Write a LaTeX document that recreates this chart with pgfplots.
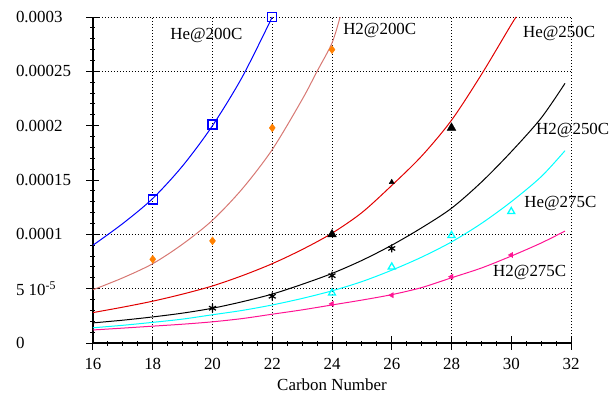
\documentclass[border=0pt]{standalone}
\usepackage{fontspec}
\setmainfont{Liberation Serif}
\usepackage{pgfplots}
\pgfplotsset{compat=1.18}
\definecolor{heblue}{RGB}{0,0,255}
\definecolor{salmonl}{RGB}{215,120,115}
\definecolor{hered}{RGB}{225,0,0}
\definecolor{hecyan}{RGB}{0,255,255}
\definecolor{hpink}{RGB}{255,20,147}
\definecolor{morange}{RGB}{255,128,0}
\begin{document}
\begin{tikzpicture}
\begin{axis}[
  at={(0,0)}, anchor=south west,
  width=478bp, height=326bp, scale only axis,
  xmin=16, xmax=32, ymin=0, ymax=0.0003,
  axis lines=left, axis line style={-, line width=1.3bp},
  clip=false,
  xtick={16,18,20,22,24,26,28,30,32},
  xticklabels={16,18,20,22,24,26,28,30,32},
  ytick={0,0.00005,0.0001,0.00015,0.0002,0.00025,0.0003},
  yticklabels={0,{5 10\textsuperscript{-5}},0.0001,0.00015,0.0002,0.00025,0.0003},
  scaled y ticks=false, scaled x ticks=false,
  minor x tick num=3, minor y tick num=4,
  tick align=center, major tick length=13bp, minor tick length=5bp,
  tick style={black, line width=1bp},
  extra x ticks={18,20,22,24,28,32}, extra x tick labels={},
  extra x tick style={xmajorgrids=true, major tick length=0pt},
  extra y ticks={0.00005,0.0001,0.00025,0.0003}, extra y tick labels={},
  extra y tick style={ymajorgrids=true, major tick length=0pt},
  major grid style={black, line width=0.9bp, dash pattern=on 1bp off 2bp},
  ticklabel style={font=\fontsize{17}{19}\selectfont},
  yticklabel style={anchor=west, xshift=-74bp},
  xticklabel style={yshift=-5bp},
  xlabel={Carbon Number},
  xlabel style={font=\fontsize{17}{19}\selectfont, at={(axis description cs:0.5,0)}, anchor=center, yshift=-42bp},
]
% He@200C
\addplot[heblue, line width=1bp, smooth] coordinates {(16,9.0e-5)(17,1.10e-4)(18,1.33e-4)(19,1.63e-4)(20,2.0e-4)(21,2.45e-4)(22,3.0e-4)};
\addplot[heblue, only marks, mark=square, mark size=4.5bp, line width=1.3bp] coordinates {(18,1.32e-4)(20,2.01e-4)(22,3.0e-4)};
% H2@200C
\addplot[salmonl, line width=1bp, smooth] coordinates {(16,4.9e-5)(17,6.0e-5)(18,7.3e-5)(19,9.1e-5)(20,1.13e-4)(21,1.42e-4)(22,1.78e-4)(23,2.24e-4)(23.5,2.5e-4)(24,2.76e-4)(24.27,3.0e-4)};
\addplot[morange, only marks, mark=diamond*, mark size=4bp] coordinates {(18,7.7e-5)(20,9.4e-5)(22,1.98e-4)(24,2.70e-4)};
% He@250C
\addplot[hered, line width=1bp, smooth] coordinates {(16,2.8e-5)(17,3.3e-5)(18,3.85e-5)(19,4.5e-5)(20,5.25e-5)(21,6.2e-5)(22,7.3e-5)(23,8.6e-5)(24,1.01e-4)(25,1.2e-4)(26,1.45e-4)(27,1.72e-4)(28,2.05e-4)(29,2.47e-4)(30,2.93e-4)(30.17,3.0e-4)};
\addplot[black, only marks, mark=triangle*, mark size=5bp] coordinates {(24,1.0e-4)(28,1.98e-4)};
\addplot[black, only marks, mark=triangle*, mark size=3bp] coordinates {(26,1.48e-4)};
% H2@250C
\addplot[black, line width=1bp, smooth] coordinates {(16,1.85e-5)(17,2.1e-5)(18,2.4e-5)(19,2.75e-5)(20,3.2e-5)(21,3.8e-5)(22,4.5e-5)(23,5.4e-5)(24,6.4e-5)(25,7.6e-5)(26,9.0e-5)(27,1.06e-4)(28,1.24e-4)(29,1.48e-4)(30,1.76e-4)(31,2.07e-4)(31.8,2.39e-4)};
\addplot[black, only marks, mark=asterisk, mark size=4bp, line width=1.2bp] coordinates {(20,3.2e-5)(22,4.3e-5)(24,6.2e-5)(26,8.7e-5)};
% He@275C
\addplot[hecyan, line width=1bp, smooth] coordinates {(16,1.4e-5)(17,1.63e-5)(18,1.9e-5)(19,2.2e-5)(20,2.6e-5)(21,3.0e-5)(22,3.5e-5)(23,4.1e-5)(24,4.8e-5)(25,5.65e-5)(26,6.7e-5)(27,7.9e-5)(28,9.3e-5)(29,1.1e-4)(30,1.3e-4)(31,1.53e-4)(31.8,1.77e-4)};
\addplot[hecyan, only marks, mark=triangle, mark size=4bp, line width=1.3bp] coordinates {(24,4.6e-5)(26,7.0e-5)(28,9.9e-5)(30,1.21e-4)};
% H2@275C
\addplot[hpink, line width=1bp, smooth] coordinates {(16,1.2e-5)(17,1.37e-5)(18,1.55e-5)(19,1.73e-5)(20,1.95e-5)(21,2.25e-5)(22,2.65e-5)(23,3.05e-5)(24,3.5e-5)(25,3.95e-5)(26,4.45e-5)(27,5.1e-5)(28,6.0e-5)(29,6.9e-5)(30,8.0e-5)(31,9.2e-5)(31.8,1.03e-4)};
\addplot[hpink, only marks, mark=triangle*, mark size=3bp, mark options={rotate=90}] coordinates {(24,3.6e-5)(26,4.4e-5)(28,6.1e-5)(30,8.1e-5)};
% labels
\node[anchor=west, inner sep=0pt, font=\fontsize{17}{19}\selectfont] at (axis cs:18.58,2.834e-4) {He@200C};
\node[anchor=west, inner sep=0pt, font=\fontsize{17}{19}\selectfont] at (axis cs:24.37,2.88e-4) {H2@200C};
\node[anchor=west, inner sep=0pt, font=\fontsize{17}{19}\selectfont] at (axis cs:30.39,2.853e-4) {He@250C};
\node[anchor=west, inner sep=0pt, font=\fontsize{17}{19}\selectfont] at (axis cs:30.83,1.96e-4) {H2@250C};
\node[anchor=west, inner sep=0pt, font=\fontsize{17}{19}\selectfont] at (axis cs:30.43,1.288e-4) {He@275C};
\node[anchor=west, inner sep=0pt, font=\fontsize{17}{19}\selectfont] at (axis cs:29.39,6.53e-5) {H2@275C};
\end{axis}
\pgfresetboundingbox
\path[use as bounding box] (-93bp,-50bp) rectangle (520bp,343bp);
\end{tikzpicture}
\end{document}
